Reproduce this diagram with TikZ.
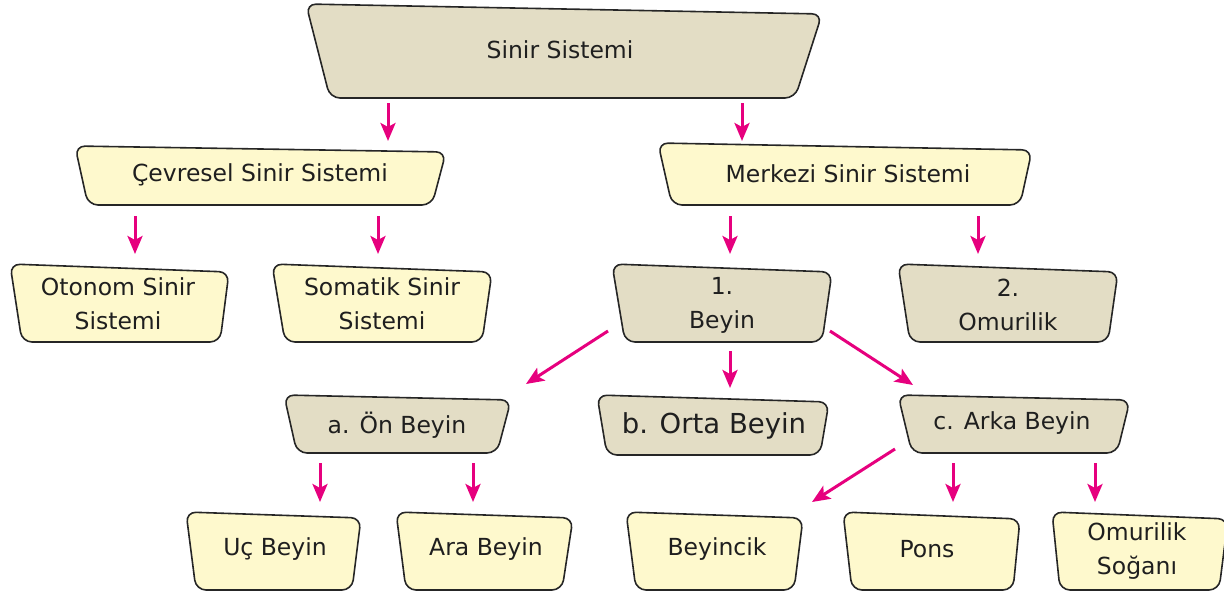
\documentclass[tikz,border=0pt]{standalone}
\usepackage{fontspec}
\setmainfont{DejaVu Sans}
\usetikzlibrary{arrows.meta}
\definecolor{kumbej}{HTML}{E3DDC5}
\definecolor{acksari}{HTML}{FEF9CD}
\definecolor{pembe}{HTML}{E6007E}
\definecolor{kenar}{HTML}{262626}
\tikzset{
  graybox/.style={draw=kenar, line width=1.6pt, fill=kumbej, rounded corners=10pt},
  yellowbox/.style={draw=kenar, line width=1.6pt, fill=acksari, rounded corners=10pt},
  label/.style={align=center, text=black!88, font=\fontsize{23.5}{34}\selectfont},
  biglabel/.style={align=center, text=black!88, font=\fontsize{27.5}{34}\selectfont},
  arr/.style={draw=pembe, line width=3pt, -{Stealth[length=18pt,width=15pt,inset=4pt]}}
}
\begin{document}
\begin{tikzpicture}[x=1pt,y=-1pt]
\useasboundingbox (0,0) rectangle (1224,594);

% level 0
\draw[graybox] (306,4) -- (822,14) -- (795,98) -- (330,98) -- cycle;
\node[label] (sinir) at (560,50) {Sinir Sistemi};

% level 1
\draw[yellowbox] (75,146) -- (446,152) -- (432,205) -- (88,205) -- cycle;
\node[label] (cevresel) at (260,175) {Çevresel Sinir Sistemi};
\draw[yellowbox] (658,143) -- (1032,150) -- (1020,205) -- (672,205) -- cycle;
\node[label] (merkezi) at (848,174) {Merkezi Sinir Sistemi};

% level 2
\draw[yellowbox] (10,264) -- (229,272) -- (220,342) -- (22,342) -- cycle;
\node[label] (otonom) at (118,304) {Otonom Sinir\\Sistemi};
\draw[yellowbox] (272,264) -- (492,272) -- (482,342) -- (285,342) -- cycle;
\node[label] (somatik) at (382,304) {Somatik Sinir\\Sistemi};
\draw[graybox] (612,264) -- (832,272) -- (822,342) -- (625,342) -- cycle;
\node[label] (beyin) at (722,305) {1.\\Beyin};
\draw[graybox] (898,264) -- (1118,272) -- (1108,342) -- (910,342) -- cycle;
\node[label] (omurilik) at (1008,305) {2.\\Omurilik};

% level 3
\draw[graybox] (284,395) -- (511,400) -- (497,453) -- (297,453) -- cycle;
\node[label] (onbeyin) at (397,425) {a. Ön Beyin};
\draw[graybox] (597,395) -- (829,402) -- (820,455) -- (607,455) -- cycle;
\node[biglabel] (ortabeyin) at (714,426) {b. Orta Beyin};
\draw[graybox] (898,395) -- (1130,400) -- (1117,453) -- (912,453) -- cycle;
\node[label] (arkabeyin) at (1012,423) {c. Arka Beyin};

% level 4
\draw[yellowbox] (186,512) -- (361,518) -- (352,590) -- (196,590) -- cycle;
\node[label] (ucbeyin) at (275,549) {Uç Beyin};
\draw[yellowbox] (396,512) -- (573,518) -- (562,590) -- (406,590) -- cycle;
\node[label] (arabeyin) at (486,549) {Ara Beyin};
\draw[yellowbox] (626,512) -- (803,518) -- (794,590) -- (636,590) -- cycle;
\node[label] (beyincik) at (717,549) {Beyincik};
\draw[yellowbox] (843,512) -- (1020,519) -- (1013,590) -- (852,590) -- cycle;
\node[label] (pons) at (927,549) {Pons};
\draw[yellowbox] (1052,512) -- (1228,519) -- (1219,590) -- (1060,590) -- cycle;
\node[label] (sogan) at (1137,551) {Omurilik\\Soğanı};

% arrow end points
\coordinate (s1) at (388,103); \coordinate (e1) at (388,141);
\coordinate (s2) at (742,103); \coordinate (e2) at (742,141);
\coordinate (s3) at (135,216); \coordinate (e3) at (135,254);
\coordinate (s4) at (378,216); \coordinate (e4) at (378,254);
\coordinate (s5) at (730,216); \coordinate (e5) at (730,254);
\coordinate (s6) at (978,216); \coordinate (e6) at (978,254);
\coordinate (s7) at (608,331); \coordinate (e7) at (526,384);
\coordinate (s8) at (730,351); \coordinate (e8) at (730,388);
\coordinate (s9) at (830,331); \coordinate (e9) at (913,385);
\coordinate (s10) at (320,463); \coordinate (e10) at (320,502);
\coordinate (s11) at (473,463); \coordinate (e11) at (473,502);
\coordinate (s12) at (895,449); \coordinate (e12) at (812,502);
\coordinate (s13) at (953,463); \coordinate (e13) at (953,502);
\coordinate (s14) at (1095,463); \coordinate (e14) at (1095,502);

\foreach \i in {1,...,14} \draw[arr] (s\i) -- (e\i);
\end{tikzpicture}
\end{document}
